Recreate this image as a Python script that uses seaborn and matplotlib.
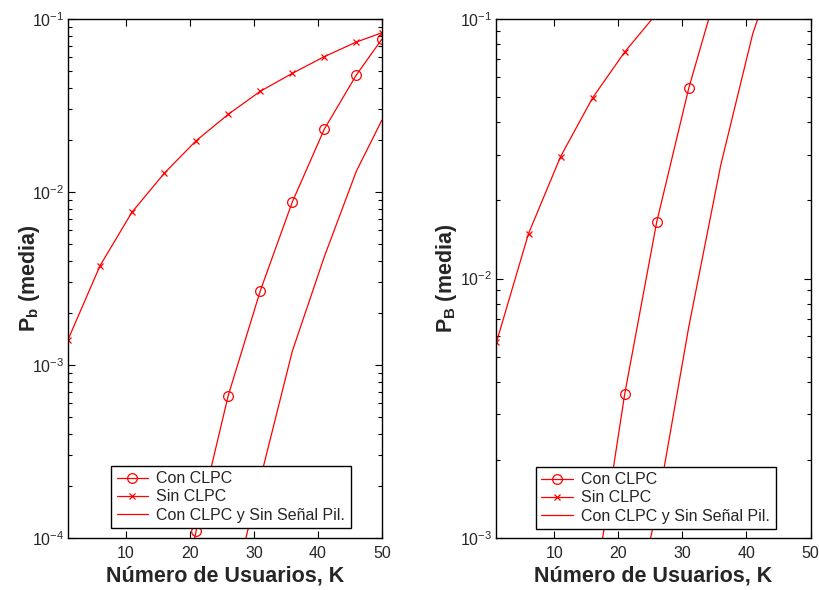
import numpy as np
import pandas as pd
import matplotlib
matplotlib.use("Agg")
import matplotlib.pyplot as plt
import seaborn as sns
from matplotlib.ticker import LogLocator, FixedLocator

sns.set_style("white")
plt.rcParams['font.family'] = ['Liberation Sans', 'DejaVu Sans']
plt.rcParams['mathtext.fontset'] = 'custom'
plt.rcParams['mathtext.rm'] = 'Liberation Sans'
plt.rcParams['mathtext.bf'] = 'Liberation Sans:bold'
plt.rcParams['mathtext.it'] = 'Liberation Sans:italic'

# ---------------- data ----------------
labels = ["Con CLPC", "Sin CLPC", "Con CLPC y Sin Señal Pil."]

# Left panel (P_b)
k_sin_b = [1, 6, 11, 16, 21, 26, 31, 36, 41, 46, 50]
pb_sin = [1.40e-3, 3.75e-3, 7.66e-3, 1.28e-2, 1.98e-2, 2.81e-2, 3.82e-2, 4.85e-2, 6.06e-2, 7.36e-2, 8.33e-2]
k_con_b = [16, 21, 26, 31, 36, 41, 46, 50]
pb_con = [1.5e-5, 1.10e-4, 6.65e-4, 2.68e-3, 8.75e-3, 2.31e-2, 4.75e-2, 7.66e-2]
k_pil_b = [26, 31, 36, 41, 46, 50]
pb_pil = [3.8e-5, 2.19e-4, 1.20e-3, 4.23e-3, 1.32e-2, 2.61e-2]

# Right panel (P_B)
k_sin_B = [1, 6, 11, 16, 21, 26]
pB_sin = [5.69e-3, 1.49e-2, 2.95e-2, 4.97e-2, 7.46e-2, 1.05e-1]
k_con_B = [16, 21, 26, 31, 36]
pB_con = [5.6e-4, 3.58e-3, 1.65e-2, 5.41e-2, 1.45e-1]
k_pil_B = [21, 26, 31, 36, 41, 46]
pB_pil = [3.5e-4, 1.28e-3, 6.5e-3, 2.74e-2, 8.8e-2, 2.0e-1]

xticks = [10, 20, 30, 40, 50]

fig = plt.figure(figsize=(8.19, 5.90), dpi=100)
axL = fig.add_axes([68/819, 52/590, 314/819, 519/590])
axR = fig.add_axes([496.5/819, 52/590, 314/819, 519/590])

red = '#ff0000'

def draw(ax, series, ylim, ylabel, label_x, leg_anchor):
    (kc, vc), (ks, vs), (kp, vp) = series
    sns.lineplot(x=kc, y=vc, ax=ax, color=red, lw=0.9, marker='o', markersize=7,
                 markerfacecolor='none', markeredgecolor=red, markeredgewidth=0.9,
                 label=labels[0], estimator=None, sort=False)
    sns.lineplot(x=ks, y=vs, ax=ax, color=red, lw=0.9, marker='x', markersize=4.5,
                 markeredgecolor=red, markeredgewidth=0.9,
                 label=labels[1], estimator=None, sort=False)
    sns.lineplot(x=kp, y=vp, ax=ax, color=red, lw=0.9,
                 label=labels[2], estimator=None, sort=False)
    ax.set_yscale('log')
    ax.set_xlim(1, 50)
    ax.set_ylim(*ylim)
    ax.xaxis.set_major_locator(FixedLocator(xticks))
    ax.yaxis.set_major_locator(LogLocator(base=10, numticks=10))
    ax.yaxis.set_minor_locator(LogLocator(base=10, subs=np.arange(2, 10), numticks=10))
    ax.tick_params(which='both', direction='in', top=True, right=True, bottom=True, left=True,
                   labelsize=11.5, color='black', width=0.8)
    ax.tick_params(axis='x', pad=6)
    ax.tick_params(axis='y', pad=3)
    ax.tick_params(which='major', length=5)
    ax.tick_params(which='minor', length=3)
    for s in ax.spines.values():
        s.set_color('black'); s.set_linewidth(1.0)
    ax.set_xlabel('Número de Usuarios, K', fontsize=15.5, fontweight='bold', labelpad=3)
    ax.set_ylabel(ylabel, fontsize=15.5, fontweight='bold')
    ax.yaxis.set_label_coords(label_x, 0.5)
    leg = ax.legend(loc='lower right', bbox_to_anchor=leg_anchor, fontsize=11.5,
                    frameon=True, fancybox=False, edgecolor='black', framealpha=1,
                    handlelength=2.0, borderpad=0.35, labelspacing=0.2, handletextpad=0.5,
                    borderaxespad=0)
    leg.get_frame().set_linewidth(1.0)

draw(axL, [(k_con_b, pb_con), (k_sin_b, pb_sin), (k_pil_b, pb_pil)], (1e-4, 1e-1),
     r'$\mathbf{P_b}$ (media)', -0.083, (0.901, 0.019))
draw(axR, [(k_con_B, pB_con), (k_sin_B, pB_sin), (k_pil_B, pB_pil)], (1e-3, 1e-1),
     r'$\mathbf{P_B}$ (media)', -0.118, (0.889, 0.017))

fig.savefig('out.png', dpi=100)
